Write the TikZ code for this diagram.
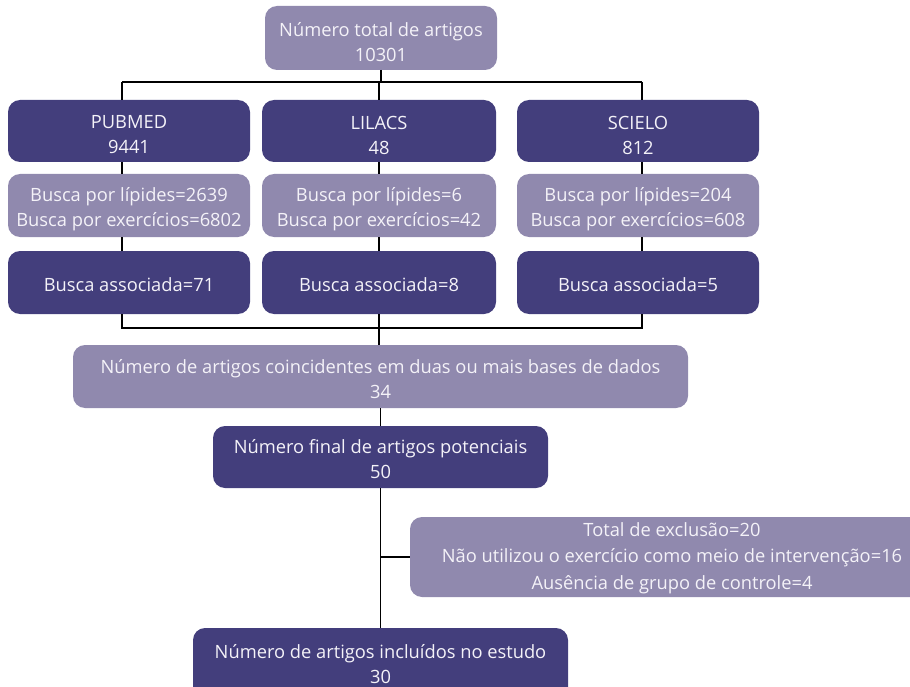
\documentclass[tikz,border=0pt]{standalone}
\usepackage{fontspec}
\setmainfont{Open Sans}
\definecolor{lightbox}{HTML}{9089AE}
\definecolor{darkbox}{HTML}{433E7C}
\definecolor{boxtext}{HTML}{F4F2F8}
\begin{document}
\begin{tikzpicture}[x=1pt,y=-1pt,
  shell/.style={rounded corners=12pt, inner sep=0pt, outer sep=0pt, draw=none},
  lbox/.style={shell, fill=lightbox},
  dbox/.style={shell, fill=darkbox},
  txt/.style={text=boxtext, align=center, inner sep=0pt,
    font=\fontsize{18.3}{25}\selectfont},
  conn/.style={line width=1.8pt, black}]
\useasboundingbox (0,0) rectangle (910,687);
\clip (0,0) rectangle (910,687);

% boxes
\node[lbox, minimum width=232pt, minimum height=64pt] (top) at (381,38) {};
\node[dbox, minimum width=242pt, minimum height=62pt] (pub) at (129,131) {};
\node[dbox, minimum width=234pt, minimum height=62pt] (lil) at (379,131) {};
\node[dbox, minimum width=242pt, minimum height=62pt] (sci) at (638,131) {};
\node[lbox, minimum width=242pt, minimum height=63pt] (publ) at (129,205.5) {};
\node[lbox, minimum width=234pt, minimum height=63pt] (lill) at (379,205.5) {};
\node[lbox, minimum width=242pt, minimum height=63pt] (scil) at (638,205.5) {};
\node[dbox, minimum width=242pt, minimum height=63pt] (puba) at (129,282.5) {};
\node[dbox, minimum width=234pt, minimum height=63pt] (lila) at (379,282.5) {};
\node[dbox, minimum width=242pt, minimum height=63pt] (scia) at (638,282.5) {};
\node[lbox, minimum width=615pt, minimum height=63pt] (coin) at (380.5,376.5) {};
\node[dbox, minimum width=335pt, minimum height=62pt] (pot) at (380.5,457) {};
\node[lbox, minimum width=525pt, minimum height=80pt] (exc) at (672.5,557) {};
\node[dbox, minimum width=375pt, minimum height=77pt] (fin) at (380.5,666.5) {};

% texts
\node[txt] (topt) at ([yshift=-4pt]top.center) {Número total de artigos\\10301};
\node[txt] (pubt) at ([yshift=-4pt]pub.center) {PUBMED\\9441};
\node[txt] (lilt) at ([yshift=-4pt]lil.center) {LILACS\\48};
\node[txt] (scit) at ([yshift=-4pt]sci.center) {SCIELO\\812};
\node[txt] (publt) at ([yshift=-3.5pt]publ.center) {Busca por lípides=2639\\Busca por exercícios=6802};
\node[txt] (lillt) at ([yshift=-3.5pt]lill.center) {Busca por lípides=6\\Busca por exercícios=42};
\node[txt] (scilt) at ([yshift=-3.5pt]scil.center) {Busca por lípides=204\\Busca por exercícios=608};
\node[txt] (pubat) at ([yshift=-2.5pt]puba.center) {Busca associada=71};
\node[txt] (lilat) at ([yshift=-2.5pt]lila.center) {Busca associada=8};
\node[txt] (sciat) at ([yshift=-2.5pt]scia.center) {Busca associada=5};
\node[txt] (coint) at ([yshift=-2.5pt]coin.center) {Número de artigos coincidentes em duas ou mais bases de dados\\34};
\node[txt] (pott) at ([yshift=-2pt]pot.center) {Número final de artigos potenciais\\50};
\node[txt, font=\fontsize{18.3}{26.5}\selectfont] (exct) at ([xshift=-0.5pt,yshift=-1pt]exc.center) {Total de exclusão=20\\Não utilizou o exercício como meio de intervenção=16\\Ausência de grupo de controle=4};
\node[txt] (fint) at ([yshift=2.5pt]fin.center) {Número de artigos incluídos no estudo\\30};

% junction points
\coordinate (hl) at (122,82);
\coordinate (hr) at (642,82);
\coordinate (bl) at (122,328);
\coordinate (br) at (642,328);

% connectors
\draw[conn] (top.south) -- (top.south |- hl);
\draw[conn] (hl) -- (hr);
\draw[conn] (hl) -- (hl |- pub.north);
\draw[conn] (lil.north) -- (lil.north |- hl);
\draw[conn] (hr) -- (hr |- sci.north);
\draw[conn] (pub.south -| hl) -- (publ.north -| hl);
\draw[conn] (lil.south) -- (lill.north);
\draw[conn] (sci.south -| hr) -- (scil.north -| hr);
\draw[conn] (publ.south -| hl) -- (puba.north -| hl);
\draw[conn] (lill.south) -- (lila.north);
\draw[conn] (scil.south -| hr) -- (scia.north -| hr);
\draw[conn] (puba.south -| bl) -- (bl) -- (br) -- (scia.south -| br);
\draw[conn] (lila.south) -- (coin.north -| lila.south);
\draw[conn] (coin.south) -- (pot.north);
\draw[conn] (pot.south) -- (fin.north);
\draw[conn] (pot.south |- exc.west) -- (exc.west);
\end{tikzpicture}
\end{document}
